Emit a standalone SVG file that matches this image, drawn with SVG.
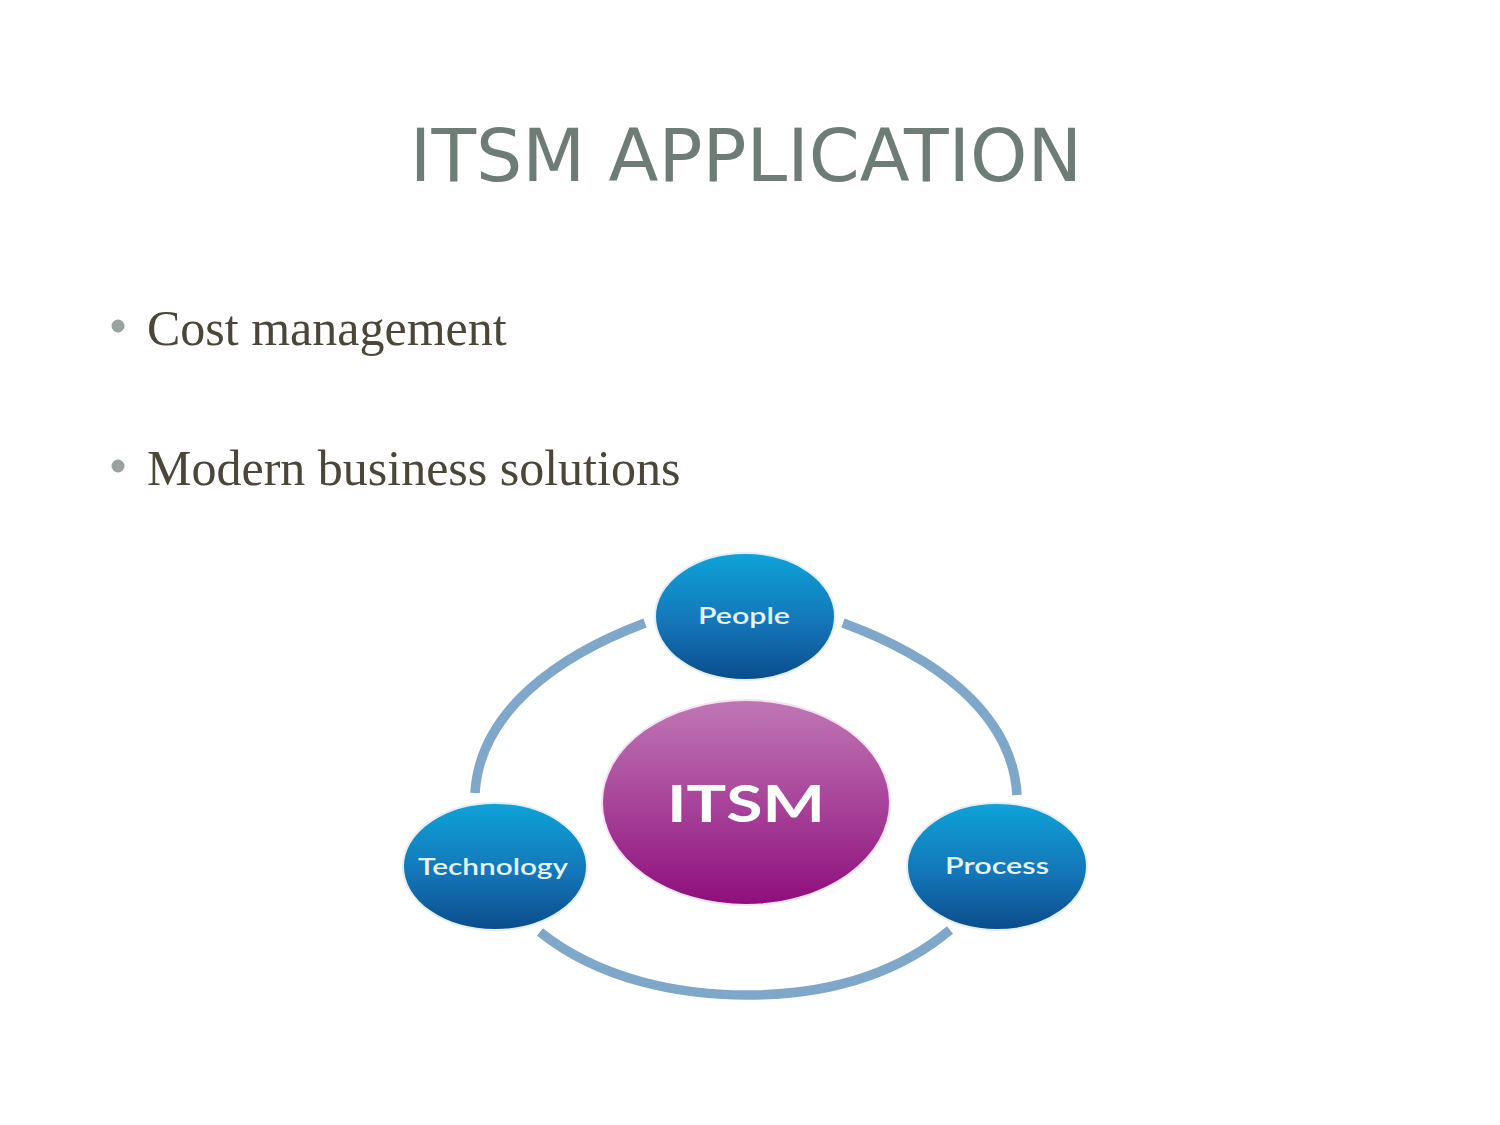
<svg xmlns="http://www.w3.org/2000/svg" width="1500" height="1125" viewBox="0 0 1500 1125">
  <defs>
    <linearGradient id="blueGrad" x1="0" y1="0" x2="0" y2="1">
      <stop offset="0" stop-color="#0ea3d9"/>
      <stop offset="0.55" stop-color="#1476b8"/>
      <stop offset="1" stop-color="#0b4c8c"/>
    </linearGradient>
    <linearGradient id="purpleGrad" x1="0" y1="0" x2="0" y2="1">
      <stop offset="0" stop-color="#c077b5"/>
      <stop offset="0.5" stop-color="#a8449a"/>
      <stop offset="1" stop-color="#8e0e7c"/>
    </linearGradient>
    <style>
      .title { font-family: "DejaVu Sans", sans-serif; font-size: 73px; fill: #6d7d76; }
      .bullet-text { font-family: "Liberation Serif", serif; font-size: 50px; fill: #4b4639; }
      .dot { fill: #9aa2a0; }
      .ring { fill: none; stroke: #7ea7c9; stroke-width: 9.5; stroke-linecap: butt; }
      .blue { fill: url(#blueGrad); stroke: #e3eef6; stroke-width: 2; }
      .purple { fill: url(#purpleGrad); stroke: #f3e3f0; stroke-width: 2; }
      .lbl { font-family: Lato, "Open Sans", sans-serif; font-size: 23px; font-weight: 600; fill: #e6f2fa; text-anchor: middle; }
      .core { font-family: Lato, "Open Sans", sans-serif; font-size: 51px; font-weight: bold; fill: #ffffff; text-anchor: middle; }
    </style>
  </defs>
  <rect x="0" y="0" width="1500" height="1125" fill="#ffffff"/>

  <text class="title" x="746" y="181" text-anchor="middle">ITSM APPLICATION</text>

  <g id="bullets">
    <circle class="dot" cx="118" cy="326" r="6.5"/>
    <text class="bullet-text" x="147" y="345">Cost management</text>
    <circle class="dot" cx="118" cy="466" r="6.5"/>
    <text class="bullet-text" x="147" y="485">Modern business solutions</text>
  </g>

  <g id="connectors">
    <path class="ring" d="M645,623 C560,655 480,710 475,793"/>
    <path class="ring" d="M843,623 C930,655 1012,710 1017,795"/>
    <path class="ring" d="M540,932 C600,980 680,995 747,995 C815,995 890,980 950,930"/>
  </g>

  <g id="node-people">
    <ellipse class="blue" cx="745" cy="616.5" rx="90" ry="63.5"/>
    <text class="lbl" x="744" y="624" textLength="92" lengthAdjust="spacingAndGlyphs">People</text>
  </g>

  <g id="node-itsm">
    <ellipse class="purple" cx="746" cy="802.5" rx="144" ry="102.5"/>
    <text class="core" x="746" y="822" textLength="158" lengthAdjust="spacingAndGlyphs">ITSM</text>
  </g>

  <g id="node-technology">
    <ellipse class="blue" cx="495" cy="866.5" rx="92" ry="63.5"/>
    <text class="lbl" x="493" y="875" textLength="150" lengthAdjust="spacingAndGlyphs">Technology</text>
  </g>

  <g id="node-process">
    <ellipse class="blue" cx="997" cy="866.5" rx="90" ry="63.5"/>
    <text class="lbl" x="997" y="874" textLength="104" lengthAdjust="spacingAndGlyphs">Process</text>
  </g>
</svg>
